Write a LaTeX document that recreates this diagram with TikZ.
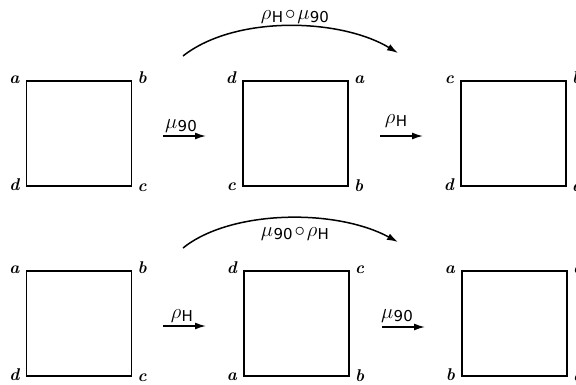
\documentclass[tikz,border=0pt]{standalone}
\usepackage{fontspec}
\newfontfamily\subfont{DejaVu Sans}
\usetikzlibrary{arrows.meta,calc}

% an operator symbol with its upright sans subscript
\newcommand{\opn}[2]{$#1$\kern0.3pt\raisebox{-3pt}{\fontsize{15}{15}\selectfont\subfont #2}}
\newcommand{\comp}{\kern2pt$\circ$\kern2pt}

% the four vertex letters round a square: TL, TR, BR, BL
\newcommand{\corners}[5]{%
  \node[corner, anchor=base east] (#1-tl) at ($(#1.north west)+(-6,3)$) {#2};
  \node[corner, anchor=base west] (#1-tr) at ($(#1.north east)+(5,3)$) {#3};
  \node[corner, anchor=base west] (#1-br) at ($(#1.south east)+(5,5)$) {#4};
  \node[corner, anchor=base east] (#1-bl) at ($(#1.south west)+(-6,4)$) {#5};
}

\begin{document}
\begin{tikzpicture}[x=1pt,y=-1pt,
  sq/.style={draw, line width=1.8pt, minimum width=105pt, minimum height=105pt, inner sep=0pt},
  corner/.style={font=\fontsize{17}{17}\selectfont\bfseries\itshape, inner sep=0pt},
  op/.style={font=\fontsize{21}{21}\selectfont, inner sep=0pt},
  arr/.style={line width=1.5pt, -{Latex[length=11pt,width=7pt]}}]
\useasboundingbox (0,0) rectangle (576,384);

% top row: rotate, then reflect
\node[sq] (s11) at (79,133.5) {};
\node[sq] (s12) at (295.5,133.5) {};
\node[sq] (s13) at (513.5,133.5) {};
\corners{s11}{a}{b}{c}{d}
\corners{s12}{d}{a}{b}{c}
\corners{s13}{c}{b}{a}{d}

% bottom row: reflect, then rotate
\node[sq] (s21) at (79,323.5) {};
\node[sq] (s22) at (296.5,323.5) {};
\node[sq] (s23) at (514.5,323.5) {};
\corners{s21}{a}{b}{c}{d}
\corners{s22}{d}{c}{b}{a}
\corners{s23}{a}{d}{c}{b}

% single steps
\coordinate (p1) at (163,136);  \coordinate (q1) at (206,136);
\coordinate (p2) at (380,136);  \coordinate (q2) at (423,136);
\coordinate (p3) at (163,326);  \coordinate (q3) at (206,326);
\coordinate (p4) at (382,327);  \coordinate (q4) at (425,327);
\draw[arr] (p1) -- (q1);
\draw[arr] (p2) -- (q2);
\draw[arr] (p3) -- (q3);
\draw[arr] (p4) -- (q4);
\node[op, anchor=base] (l1) at (181,128) {\opn{\mu}{90}};
\node[op, anchor=base] (l2) at (396,123) {\opn{\rho}{H}};
\node[op, anchor=base] (l3) at (182,318) {\opn{\rho}{H}};
\node[op, anchor=base] (l4) at (397,318) {\opn{\mu}{90}};

% composite steps
\coordinate (u1) at (183,56);   \coordinate (v1) at (398,53);
\coordinate (u2) at (183,248);  \coordinate (v2) at (398,242);
\draw[arr] (u1) .. controls (235,15) and (340,18) .. (v1);
\draw[arr] (u2) .. controls (230,210) and (335,208) .. (v2);
\node[op, anchor=base] (l5) at (295,19) {\opn{\rho}{H}\comp\opn{\mu}{90}};
\node[op, anchor=base] (l6) at (295,236) {\opn{\mu}{90}\comp\opn{\rho}{H}};
\end{tikzpicture}
\end{document}
